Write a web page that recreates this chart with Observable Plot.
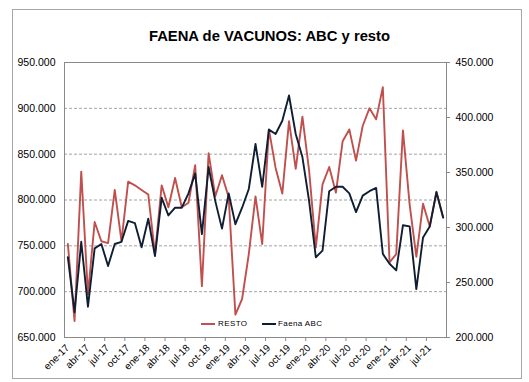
<!DOCTYPE html>
<html><head><meta charset="utf-8">
<script src="https://cdn.jsdelivr.net/npm/d3@7"></script>
<script src="https://cdn.jsdelivr.net/npm/@observablehq/plot@0.6"></script>
<style>
body{margin:0;background:#fff;font-family:"Liberation Sans",Arial,sans-serif;}
#wrap{position:relative;width:529px;height:382px;overflow:hidden;background:#fff;}
#border{position:absolute;left:12px;top:9px;width:508px;height:368px;border:1px solid #a6a6a6;}
#title{position:absolute;left:5px;top:28px;width:529px;line-height:17px;text-align:center;font-weight:bold;font-size:14.8px;color:#000;}
#chart{position:absolute;left:0;top:50px;}
.leg{position:absolute;top:318px;font-size:8px;color:#000;line-height:12px;letter-spacing:0.4px;}
.sw{position:absolute;height:2px;top:323px;}
</style>
</head><body>
<div id="wrap">
  <div id="border"></div>
  <div id="title">FAENA de VACUNOS: ABC y resto</div>
  <div id="chart"></div>
  <div class="sw" style="left:201px;width:14px;background:#C0504D"></div>
  <div class="leg" style="left:218px">RESTO</div>
  <div class="sw" style="left:262px;width:14px;background:#0F1E33"></div>
  <div class="leg" style="left:278px">Faena ABC</div>
</div>
<script>
const categories = ["ene-17","feb-17","mar-17","abr-17","may-17","jun-17","jul-17","ago-17","sep-17","oct-17","nov-17","dic-17",
"ene-18","feb-18","mar-18","abr-18","may-18","jun-18","jul-18","ago-18","sep-18","oct-18","nov-18","dic-18",
"ene-19","feb-19","mar-19","abr-19","may-19","jun-19","jul-19","ago-19","sep-19","oct-19","nov-19","dic-19",
"ene-20","feb-20","mar-20","abr-20","may-20","jun-20","jul-20","ago-20","sep-20","oct-20","nov-20","dic-20",
"ene-21","feb-21","mar-21","abr-21","may-21","jun-21","jul-21","ago-21","sep-21"];
// thousands of head
const resto = [752,668,831,697,776,755,753,811,755,820,816,811,
806,741,816,792,824,792,797,838,706,851,804,827,
803,675,692,741,804,752,877,835,807,886,834,891,
832,748,817,836,808,864,877,843,881,900,888,923,
732,741,876,795,738,796,771,809,781];
const abc = [273,223,287,228,281,285,265,285,287,306,304,282,
308,274,327,311,318,318,331,349,294,355,324,299,
331,303,318,335,376,337,389,385,397,420,385,364,
324,273,279,333,337,337,331,314,329,333,336,276,
267,261,302,301,244,291,301,332,309];
const leftTicks = [650,700,750,800,850,900,950];
const rightTicks = [200,250,300,350,400,450];
const gridTicks = [700,750,800,850,900];
const labelEvery = 3;

const toLeft = v => 650 + (v - 200) * 300 / 250;
const fromLeft = v => Math.round(200 + (v - 650) * 250 / 300);

const data = categories.map((c, i) => ({i, c, resto: resto[i], abc: abc[i]}));
const labelData = data.filter(d => d.i % labelEvery === 0);
const boundaries = d3.range(labelEvery, categories.length, labelEvery);

const chart = Plot.plot({
  width: 529, height: 332,
  marginLeft: 64, marginRight: 83, marginTop: 12, marginBottom: 45,
  x: {type: "linear", domain: [0, categories.length]},
  y: {domain: [650, 950]},
  style: {fontFamily: "'Liberation Sans', Arial, sans-serif", fontSize: "10.5px", color: "#000", background: "transparent", overflow: "visible"},
  marks: [
    Plot.ruleY(gridTicks, {stroke: "#8c8c8c", strokeDasharray: "3,2", strokeWidth: 0.8}),
    Plot.frame({stroke: "#8a8a8a"}),
    Plot.axisY(leftTicks, {anchor: "left", tickSize: 0, tickPadding: 9, tickFormat: d => d + ".000", label: null}),
    Plot.axisY(rightTicks.map(toLeft), {anchor: "right", tickSize: 3, tickPadding: 6, tickFormat: d => fromLeft(d) + ".000", label: null, stroke: "#8a8a8a"}),
    Plot.axisX(boundaries, {anchor: "bottom", tickSize: 4, tickFormat: () => "", label: null, stroke: "#8a8a8a"}),
    Plot.text(labelData, {x: d => d.i + 0.5, frameAnchor: "bottom", dx: 2, dy: 11, rotate: -45, textAnchor: "end", text: "c", fontSize: 10}),
    Plot.line(data, {x: d => d.i + 0.5, y: "resto", stroke: "#C0504D", strokeWidth: 1.9}),
    Plot.line(data, {x: d => d.i + 0.5, y: d => toLeft(d.abc), stroke: "#0F1E33", strokeWidth: 1.9})
  ]
});
document.getElementById("chart").appendChild(chart);
</script>
</body></html>
